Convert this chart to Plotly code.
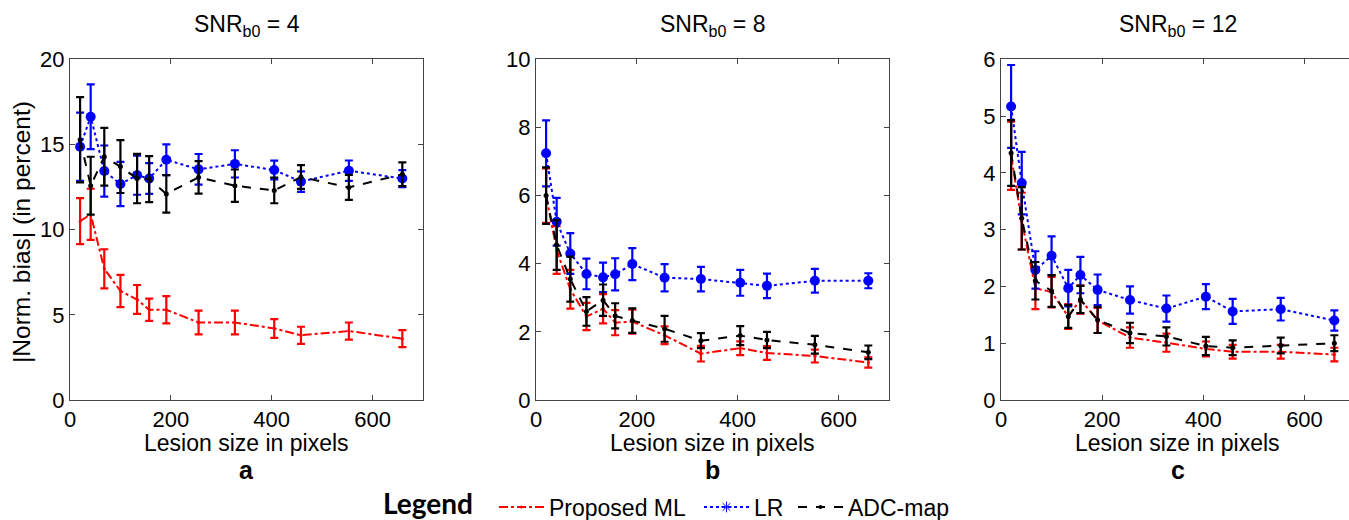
import plotly.graph_objects as go

# Lesion sizes (pixels)
lesion_size = [20, 41, 68, 100, 133, 157, 191, 255, 327, 405, 458, 553, 659]

# Panel a: SNR_b0 = 4
ml_a = [10.5, 10.9, 7.7, 6.4, 5.9, 5.3, 5.3, 4.55, 4.55, 4.2, 3.8, 4.05, 3.6]
ml_a_err = [1.35, 1.5, 1.15, 0.95, 0.85, 0.65, 0.8, 0.7, 0.7, 0.55, 0.5, 0.5, 0.5]
lr_a = [14.87, 16.63, 13.44, 12.68, 13.2, 13.0, 14.1, 13.54, 13.86, 13.5, 12.82, 13.46, 13.0]
lr_a_err = [2.0, 1.9, 1.5, 1.3, 1.15, 0.9, 0.9, 0.9, 0.8, 0.55, 0.6, 0.6, 0.5]
adc_a = [15.28, 12.58, 14.28, 13.7, 13.0, 12.97, 12.1, 13.07, 12.58, 12.3, 13.09, 12.48, 13.25]
adc_a_err = [2.5, 1.7, 1.7, 1.55, 1.45, 1.35, 1.1, 0.95, 0.95, 0.75, 0.7, 0.73, 0.7]

# Panel b: SNR_b0 = 8
ml_b = [6.0, 4.4, 3.25, 2.45, 2.68, 2.27, 2.3, 1.9, 1.36, 1.52, 1.38, 1.29, 1.1]
ml_b_err = [0.8, 0.7, 0.57, 0.4, 0.43, 0.37, 0.35, 0.26, 0.23, 0.2, 0.2, 0.19, 0.15]
lr_b = [7.24, 5.23, 4.3, 3.7, 3.6, 3.69, 3.99, 3.59, 3.55, 3.44, 3.35, 3.5, 3.5]
lr_b_err = [0.97, 0.7, 0.6, 0.45, 0.43, 0.47, 0.47, 0.4, 0.36, 0.38, 0.36, 0.35, 0.22]
adc_b = [6.0, 4.55, 3.55, 2.6, 2.93, 2.47, 2.33, 2.09, 1.74, 1.89, 1.76, 1.62, 1.4]
adc_b_err = [0.83, 0.73, 0.66, 0.42, 0.46, 0.37, 0.36, 0.38, 0.22, 0.28, 0.24, 0.26, 0.2]

# Panel c: SNR_b0 = 12
ml_c = [4.3, 3.15, 1.97, 1.9, 1.47, 1.77, 1.4, 1.1, 1.01, 0.9, 0.85, 0.85, 0.8]
ml_c_err = [0.6, 0.5, 0.37, 0.27, 0.22, 0.25, 0.22, 0.18, 0.16, 0.13, 0.12, 0.12, 0.12]
lr_c = [5.17, 3.82, 2.29, 2.54, 1.97, 2.2, 1.94, 1.76, 1.61, 1.82, 1.56, 1.6, 1.4]
lr_c_err = [0.73, 0.55, 0.33, 0.34, 0.32, 0.32, 0.27, 0.24, 0.23, 0.22, 0.22, 0.2, 0.18]
adc_c = [4.35, 3.2, 2.1, 1.92, 1.47, 1.77, 1.41, 1.18, 1.12, 0.95, 0.92, 0.96, 1.0]
adc_c_err = [0.58, 0.55, 0.33, 0.28, 0.2, 0.24, 0.23, 0.18, 0.16, 0.16, 0.13, 0.14, 0.14]

titles = ["SNR<sub>b0</sub> = 4", "SNR<sub>b0</sub> = 8", "SNR<sub>b0</sub> = 12"]
panel_letters = ["a", "b", "c"]
y_ranges = [[0, 20], [0, 10], [0, 6]]
y_dticks = [5, 2, 1]
x_ranges = [[0, 700], [0, 700], [0, 688]]
x_ticks = [0, 200, 400, 600]
series_names = ["Proposed ML", "LR", "ADC-map"]
x_title = "Lesion size in pixels"
y_title = "|Norm. bias| (in percent)"

panels = [
    [(ml_a, ml_a_err), (lr_a, lr_a_err), (adc_a, adc_a_err)],
    [(ml_b, ml_b_err), (lr_b, lr_b_err), (adc_b, adc_b_err)],
    [(ml_c, ml_c_err), (lr_c, lr_c_err), (adc_c, adc_c_err)],
]

W, H = 1349, 520
x_domains = [[70 / W, 423 / W], [536 / W, 889 / W], [1001 / W, 1.0]]
y_domain = [1 - 400 / H, 1 - 59.3 / H]
panel_centers = [246.5 / W, 712.5 / W, 1177.5 / W]

styles = [
    dict(color="#ff0000", dash="dashdot", marker=dict(size=3, color="#ff0000")),
    dict(color="#0000ff", dash="dot", marker=dict(size=10, color="#0000ff")),
    dict(color="#000000", dash="dash", marker=dict(size=5, color="#000000")),
]

fig = go.Figure()
font_family = "Liberation Sans, Arial, sans-serif"
FS = 23

for p in range(3):
    xa = "x" if p == 0 else f"x{p+1}"
    ya = "y" if p == 0 else f"y{p+1}"
    for s in range(3):
        vals, errs = panels[p][s]
        st = styles[s]
        fig.add_trace(go.Scatter(
            x=lesion_size, y=vals, mode="lines+markers",
            line=dict(color=st["color"], dash=st["dash"], width=2),
            marker=st["marker"],
            error_y=dict(type="data", array=errs, visible=True,
                         color=st["color"], thickness=2.2, width=4),
            xaxis=xa, yaxis=ya, showlegend=False, name=series_names[s],
        ))
    axis_common = dict(showline=True, linecolor="#444444", linewidth=1,
                       ticks="inside", ticklen=5, tickcolor="#444444",
                       showgrid=False, zeroline=False, automargin=False,
                       tickfont=dict(family=font_family, size=22, color="#000000"))
    xkey = "xaxis" if p == 0 else f"xaxis{p+1}"
    ykey = "yaxis" if p == 0 else f"yaxis{p+1}"
    fig.update_layout(**{
        xkey: dict(domain=x_domains[p], range=x_ranges[p], tickvals=x_ticks,
                   anchor=ya, mirror="ticks", **axis_common),
        ykey: dict(domain=y_domain, range=y_ranges[p], dtick=y_dticks[p],
                   anchor=xa, mirror=("ticks" if p < 2 else False), **axis_common),
    })
    cx = panel_centers[p]
    fig.add_annotation(text=titles[p], x=cx, y=1 - 25 / H, xref="paper", yref="paper",
                       xanchor="center", yanchor="middle", showarrow=False,
                       font=dict(family=font_family, size=FS, color="#000000"))
    fig.add_annotation(text=x_title, x=cx, y=1 - 443 / H, xref="paper", yref="paper",
                       xanchor="center", yanchor="middle", showarrow=False,
                       font=dict(family=font_family, size=FS, color="#000000"))
    fig.add_annotation(text="<b>" + panel_letters[p] + "</b>", x=cx, y=1 - 470 / H,
                       xref="paper", yref="paper", xanchor="center", yanchor="middle",
                       showarrow=False,
                       font=dict(family=font_family, size=25, color="#000000"))

fig.add_annotation(text=y_title, x=22 / W, y=1 - 232 / H, xref="paper", yref="paper",
                   textangle=-90, xanchor="center", yanchor="middle", showarrow=False,
                   font=dict(family=font_family, size=24.5, color="#000000"))

# legend-only entries, each in its own legend box
legend_markers = [dict(size=3, color="#ff0000"),
                  dict(size=9, color="#0000ff", symbol="asterisk-open", line=dict(color="#0000ff", width=1)),
                  dict(size=4, color="#000000")]
legend_names = ["legend", "legend2", "legend3"]
legend_x = [494, 699, 793]
for s in range(3):
    st = styles[s]
    fig.add_trace(go.Scatter(x=[None], y=[None], mode="lines+markers",
                             line=dict(color=st["color"], dash=st["dash"], width=2),
                             marker=legend_markers[s], name=series_names[s],
                             showlegend=True, legend=legend_names[s]))

legend_common = dict(orientation="h", xref="container", yref="container", xanchor="left",
                     yanchor="middle", y=1 - 507 / H, itemwidth=45,
                     font=dict(family=font_family, size=FS, color="#000000"),
                     bgcolor="rgba(0,0,0,0)", borderwidth=0)

fig.add_annotation(text="<b>Legend</b>", x=381 / W, y=1 - 503 / H, xref="paper", yref="paper",
                   xanchor="left", yanchor="middle", showarrow=False,
                   font=dict(family="Lato, Carlito, sans-serif", size=28, color="#000000"))

fig.update_layout(
    width=W, height=H, margin=dict(l=0, r=0, t=0, b=0, autoexpand=False),
    paper_bgcolor="white", plot_bgcolor="white",
    legend=dict(x=legend_x[0] / W, **legend_common),
    legend2=dict(x=legend_x[1] / W, **legend_common),
    legend3=dict(x=legend_x[2] / W, **legend_common),
)

fig.write_html("out.html")
